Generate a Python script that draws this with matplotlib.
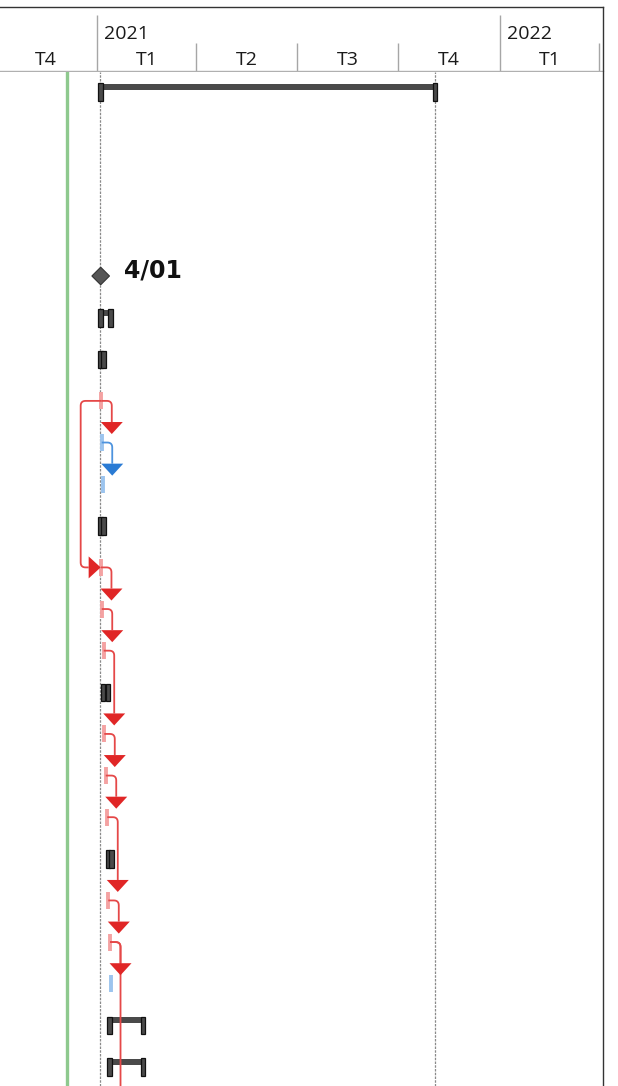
import matplotlib
matplotlib.use("Agg")
import matplotlib.pyplot as plt
import matplotlib.dates as mdates
from matplotlib.patches import Polygon, Rectangle
from matplotlib.lines import Line2D
import numpy as np
import pandas as pd

plt.rcParams["font.family"] = ["Open Sans", "Noto Sans", "DejaVu Sans"]

# ---- data ----
quarter_starts = ["2020-10-01", "2021-01-01", "2021-04-01", "2021-07-01",
                  "2021-10-01", "2022-01-01", "2022-04-01"]
quarter_labels = ["T4", "T1", "T2", "T3", "T4", "T1"]
year_starts = ["2021-01-01", "2022-01-01"]
year_labels = ["2021", "2022"]

status_date = "2020-12-05"
project_start = "2021-01-04"
project_finish = "2021-11-03"

# summary bars (row position, start, finish)
summary_rows = [-4.43, 1, 2, 6, 10, 14, 18, 19]
summary_start = ["2021-01-04", "2021-01-04", "2021-01-04", "2021-01-04",
                 "2021-01-06 10:00", "2021-01-11", "2021-01-12 12:00", "2021-01-12 12:00"]
summary_finish = ["2021-11-03", "2021-01-13", "2021-01-07", "2021-01-07",
                  "2021-01-11", "2021-01-14", "2021-02-11 12:00", "2021-02-11 12:00"]

milestone_row = 0
milestone_date = "2021-01-04 08:00"
milestone_label = "4/01"

# very short tasks
task_rows = [3, 4, 5, 7, 8, 9, 11, 12, 13, 15, 16, 17]
task_dates = ["2021-01-04 21:00", "2021-01-05 07:00", "2021-01-06 17:00",
              "2021-01-04 14:00", "2021-01-05 07:00", "2021-01-07 02:00",
              "2021-01-07 14:00", "2021-01-08 22:00", "2021-01-10 07:00",
              "2021-01-11 05:00", "2021-01-12 19:00", "2021-01-13 10:00"]
task_critical = [True, False, False, True, True, True,
                 True, True, True, True, True, False]

# links (predecessor row -> successor row)
link_pred = [3, 4, 3, 7, 8, 9, 11, 12, 13, 15, 16, 16]
link_succ = [4, 5, 7, 8, 9, 11, 12, 13, 15, 16, 17, 21]
link_critical = [True, False, True, True, True, True,
                 True, True, True, True, True, True]
link_loop = [False, False, True, False, False, False,
             False, False, False, False, False, False]

# ---- geometry ----
W, H = 618, 1086
HEADER = 72
ROW_PX = 41.63
ROW0_PX = 276
PX_PER_DAY = 1.104
ORIGIN_PX = 97
ORIGIN = mdates.date2num(pd.Timestamp("2021-01-01"))
XLIM = (ORIGIN - ORIGIN_PX / PX_PER_DAY, ORIGIN + (W - ORIGIN_PX) / PX_PER_DAY)

C_DARK = "#4a4a4a"
C_RED_LINE = "#e54848"
C_RED_HEAD = "#e02626"
C_BLUE_LINE = "#4d93de"
C_BLUE_HEAD = "#2a7bd4"
C_RED_BAR = "#f4a2a2"
C_BLUE_BAR = "#9cc4ee"


def dn(s):
    return mdates.date2num(pd.Timestamp(s))


def xd(px):
    return px / PX_PER_DAY


def yd(px):
    return px / ROW_PX


def rounded(pts, r=5):
    P = [np.array([x * PX_PER_DAY, y * ROW_PX]) for x, y in pts]
    out = [P[0]]
    for i in range(1, len(P) - 1):
        a, b, c = P[i - 1], P[i], P[i + 1]
        u = (a - b) / np.linalg.norm(a - b)
        v = (c - b) / np.linalg.norm(c - b)
        p1, p2 = b + u * r, b + v * r
        for t in np.linspace(0, 1, 10):
            out.append((1 - t) ** 2 * p1 + 2 * (1 - t) * t * b + t ** 2 * p2)
    out.append(P[-1])
    arr = np.array(out)
    return arr[:, 0] / PX_PER_DAY, arr[:, 1] / ROW_PX


fig = plt.figure(figsize=(W / 100, H / 100), dpi=100)

# ---- header ----
axh = fig.add_axes([0, 1 - HEADER / H, 1, HEADER / H])
axh.set_xlim(*XLIM)
axh.set_ylim(HEADER, 0)
axh.axis("off")
qd = [dn(d) for d in quarter_starts]
yr = [dn(d) for d in year_starts]
axh.vlines(yr, 15, HEADER, color="#a6a6a6", lw=1)
axh.vlines([d for d in qd if d not in yr], 43, HEADER, color="#a6a6a6", lw=1)
for i, lab in enumerate(quarter_labels):
    axh.text((qd[i] + qd[i + 1]) / 2, 60, lab, ha="center", va="center",
             fontsize=14, color="#1a1a1a")
for d, lab in zip(yr, year_labels):
    axh.annotate(lab, xy=(d, 34), xytext=(5, 0), textcoords="offset points",
                 ha="left", va="center", fontsize=14, color="#1a1a1a")
axh.axhline(7, xmax=603 / W, color="#333333", lw=1)
axh.axhline(71, xmax=603 / W, color="#b0b0b0", lw=1)

# ---- chart area ----
ax = fig.add_axes([0, 0, 1, (H - HEADER) / H])
ax.set_xlim(*XLIM)
ax.set_ylim((H - ROW0_PX) / ROW_PX, (HEADER - ROW0_PX) / ROW_PX)
ax.axis("off")

ax.axvline(dn(status_date), color="#8ec98e", lw=2.4, zorder=1)
for d in [project_start, project_finish]:
    ax.axvline(dn(d), color="#8a8a8a", lw=0.9, ls=(0, (2, 1)), zorder=1)

# summary bars
for r, s, f in zip(summary_rows, summary_start, summary_finish):
    x0, x1 = dn(s), dn(f)
    ax.add_patch(Rectangle((x0, r - yd(8)), x1 - x0, yd(6), facecolor=C_DARK,
                           edgecolor="none", zorder=3))
    for xc in (x0, x1):
        ax.add_patch(Rectangle((xc - xd(2.3), r - yd(8.5)), xd(4.6), yd(17.5),
                               facecolor=C_DARK, edgecolor="#111111", lw=0.9, zorder=4))

# milestone
mx = dn(milestone_date)
ax.add_patch(Polygon([(mx - xd(8.8), milestone_row), (mx, milestone_row - yd(8.8)),
                      (mx + xd(8.8), milestone_row), (mx, milestone_row + yd(8.8))],
                     closed=True, facecolor="#555555", edgecolor="#333333", lw=0.8, zorder=4))
ax.annotate(milestone_label, xy=(mx, milestone_row), xytext=(17, 4),
            textcoords="offset points", ha="left", va="center",
            fontsize=17, fontweight="bold", color="#111111",
            family=["DejaVu Sans"])

# short tasks
task_x = {r: dn(d) for r, d in zip(task_rows, task_dates)}
for r, d, c in zip(task_rows, task_dates, task_critical):
    ax.vlines(dn(d), r - yd(8.5), r + yd(8.5), color=C_RED_BAR if c else C_BLUE_BAR,
              lw=2.8, zorder=3)

# links
for p, s, c, loop in zip(link_pred, link_succ, link_critical, link_loop):
    lc = C_RED_LINE if c else C_BLUE_LINE
    hc = C_RED_HEAD if c else C_BLUE_HEAD
    x0 = task_x[p]
    if loop:
        xl = x0 - xd(20.6)
        xtip = task_x[s] - xd(0.3)
        xbase = xtip - xd(12)
        lx, ly = rounded([(x0, p), (xl, p), (xl, s), (xbase, s)])
        ax.plot(lx, ly, color=lc, lw=1.3, zorder=5, solid_capstyle="butt")
        ax.add_patch(Polygon([(xbase, s - yd(11)), (xbase, s + yd(11)), (xtip, s)],
                             closed=True, facecolor=hc, edgecolor="none", zorder=6))
    else:
        xv = x0 + xd(10.5)
        ytip = s - yd(8.5)
        ybase = ytip - yd(12)
        lx, ly = rounded([(x0, p), (xv, p), (xv, ybase)])
        ax.plot(lx, ly, color=lc, lw=1.3, zorder=5, solid_capstyle="butt")
        ax.add_patch(Polygon([(xv - xd(11), ybase), (xv + xd(11), ybase), (xv, ytip)],
                             closed=True, facecolor=hc, edgecolor="none", zorder=6))

# right border
fig.add_artist(Line2D([603 / W, 603 / W], [0, 1 - 7 / H], transform=fig.transFigure,
                      color="#333333", lw=1))

fig.savefig("out.png", dpi=100)
